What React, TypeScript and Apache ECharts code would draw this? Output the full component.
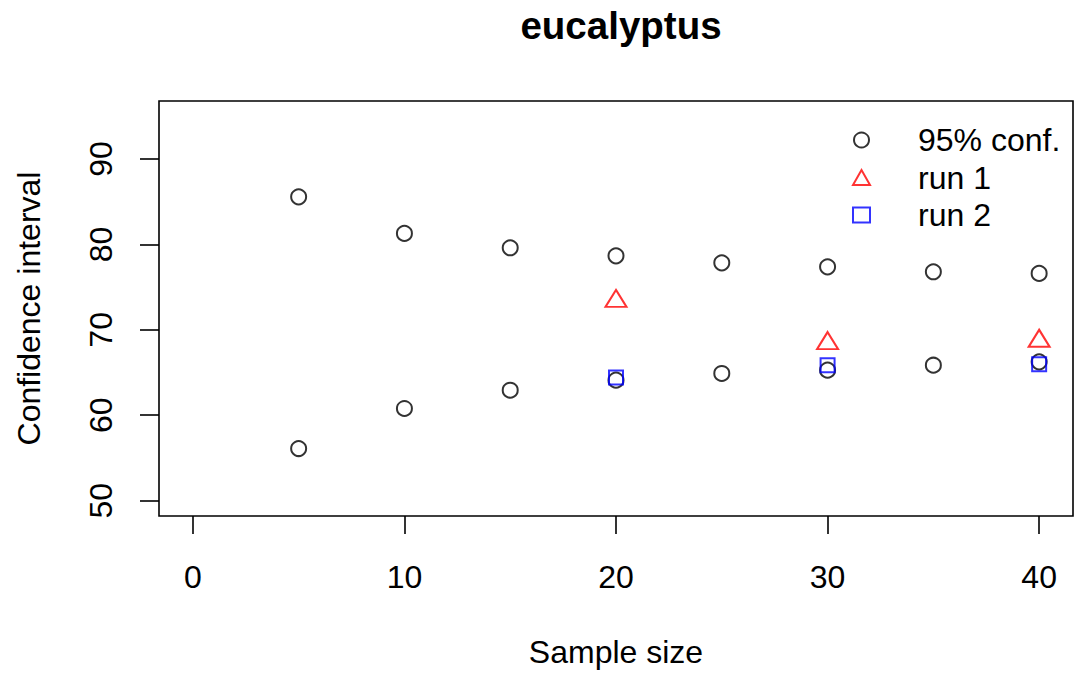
import React, { useEffect, useRef } from "react";
import * as echarts from "echarts";

const sampleSizes = [5, 10, 15, 20, 25, 30, 35, 40];
const confUpper = [85.58, 81.29, 79.61, 78.67, 77.85, 77.38, 76.8, 76.61];
const confLower = [56.1, 60.79, 62.93, 64.11, 64.89, 65.28, 65.86, 66.25];
const runSizes = [20, 30, 40];
const run1 = [73.35, 68.42, 68.69];
const run2 = [64.42, 65.84, 65.96];
const xTicks = [0, 10, 20, 30, 40];
const yTicks = [50, 60, 70, 80, 90];

const FONT = "Liberation Sans, Arial, Helvetica, sans-serif";

export default function App() {
  const ref = useRef<HTMLDivElement>(null);
  useEffect(() => {
    if (!ref.current) return;
    const chart = echarts.init(ref.current, null, { renderer: "svg" });
    const confData = [
      ...sampleSizes.map((x, i) => [x, confUpper[i]]),
      ...sampleSizes.map((x, i) => [x, confLower[i]]),
    ];
    chart.setOption({
      animation: false,
      backgroundColor: "#ffffff",
      textStyle: { fontFamily: FONT, color: "#000" },
      title: {
        text: "eucalyptus",
        left: 616,
        textAlign: "center",
        top: 1,
        textStyle: { fontFamily: FONT, fontSize: 38.5, fontWeight: "bold", color: "#000" },
      },
      legend: {
        orient: "vertical",
        left: 847,
        top: 119,
        itemGap: 5.5,
        itemWidth: 17,
        itemHeight: 15,
        data: ["95% conf.", "run 1", "run 2"],
        textStyle: { fontFamily: FONT, fontSize: 32, color: "#000", padding: [0, 0, 0, 43] },
      },
      grid: {
        left: 159,
        right: 2,
        top: 101,
        bottom: 157,
        show: true,
        borderColor: "#000",
        borderWidth: 1.6,
        backgroundColor: "transparent",
      },
      xAxis: {
        type: "value",
        min: -1.6,
        max: 41.6,
        name: "Sample size",
        nameLocation: "middle",
        nameGap: 120,
        nameTextStyle: { fontFamily: FONT, fontSize: 32, color: "#000" },
        axisLine: { show: false, onZero: false },
        splitLine: { show: false },
        axisTick: { show: true, length: 18, customValues: xTicks, lineStyle: { color: "#000", width: 1.6 } },
        axisLabel: { customValues: xTicks, margin: 45, fontFamily: FONT, fontSize: 32, color: "#000" },
      },
      yAxis: {
        type: "value",
        min: 48.2,
        max: 96.8,
        name: "Confidence interval",
        nameLocation: "middle",
        nameGap: 114,
        nameRotate: 90,
        nameTextStyle: { fontFamily: FONT, fontSize: 32, color: "#000" },
        axisLine: { show: false, onZero: false },
        splitLine: { show: false },
        axisTick: { show: true, length: 19, customValues: yTicks, lineStyle: { color: "#000", width: 1.6 } },
        axisLabel: { customValues: yTicks, rotate: 90, margin: 42, fontFamily: FONT, fontSize: 32, color: "#000" },
      },
      series: [
        {
          name: "95% conf.",
          type: "scatter",
          symbol: "circle",
          symbolSize: 15,
          data: confData,
          itemStyle: { color: "rgba(0,0,0,0)", borderColor: "#000", borderWidth: 2 },
        },
        {
          name: "run 1",
          type: "scatter",
          symbol: "triangle",
          symbolSize: [21, 17],
          symbolOffset: [0, -2.8],
          data: runSizes.map((x, i) => [x, run1[i]]),
          itemStyle: { color: "rgba(0,0,0,0)", borderColor: "#ff0000", borderWidth: 2 },
        },
        {
          name: "run 2",
          type: "scatter",
          symbol: "rect",
          symbolSize: 14,
          data: runSizes.map((x, i) => [x, run2[i]]),
          itemStyle: { color: "rgba(0,0,0,0)", borderColor: "#0000ff", borderWidth: 2 },
        },
      ],
    });
    return () => chart.dispose();
  }, []);
  return (
    <div
      ref={ref}
      style={{ position: "fixed", left: 0, top: 0, width: 1075, height: 673, background: "#fff" }}
    />
  );
}
